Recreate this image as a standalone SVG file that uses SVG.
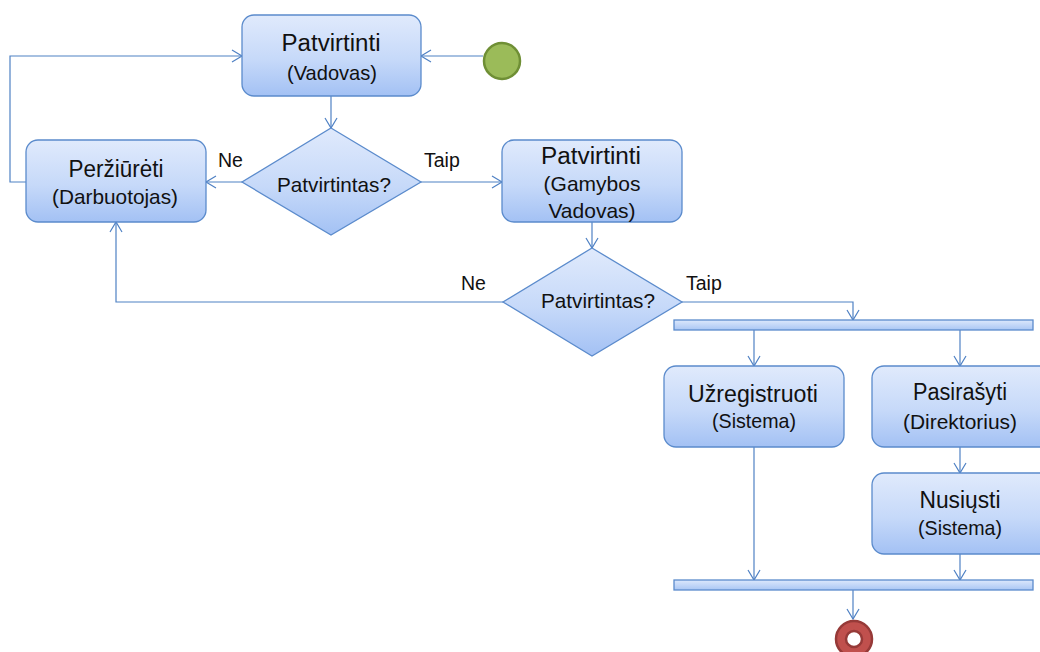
<svg xmlns="http://www.w3.org/2000/svg" width="1040" height="652" viewBox="0 0 1040 652">
<defs>
<linearGradient id="gNode" x1="0" y1="0" x2="0" y2="1">
<stop offset="0" stop-color="#e0eafc"/>
<stop offset="0.55" stop-color="#c6d9f9"/>
<stop offset="1" stop-color="#a3c1f4"/>
</linearGradient>
<linearGradient id="gBar" x1="0" y1="0" x2="0" y2="1">
<stop offset="0" stop-color="#dce8fc"/>
<stop offset="1" stop-color="#a9c6f4"/>
</linearGradient>
<marker id="arr" markerUnits="userSpaceOnUse" markerWidth="14" markerHeight="14" viewBox="0 0 14 14" refX="12" refY="7" orient="auto">
<path d="M2,1 L12,7 L2,13" fill="none" stroke="#4f81c4" stroke-width="1.2"/>
</marker>
</defs>
<style>
.node{fill:url(#gNode);stroke:#5b8bcc;stroke-width:1.3}
.bar{fill:url(#gBar);stroke:#5b8bcc;stroke-width:1.3}
.conn{fill:none;stroke:#4f81c4;stroke-width:1.2;marker-end:url(#arr)}
text{font-family:"Liberation Sans",Arial,sans-serif;fill:#111;text-anchor:middle}
.t1{font-size:23px}
.t2{font-size:21px}
.lbl{font-size:19.5px;text-anchor:start}
</style>
<rect width="1040" height="652" fill="#ffffff"/>

<g id="connectors">
<path class="conn" d="M483,56 L421,56"/>
<path class="conn" d="M331,96 L331,128"/>
<path class="conn" d="M242,182 L206,182"/>
<path class="conn" d="M421,182 L502,182"/>
<path class="conn" d="M26,182 L10,182 L10,56 L242,56"/>
<path class="conn" d="M592,222 L592,248"/>
<path class="conn" d="M503,302 L116,302 L116,222"/>
<path class="conn" d="M682,302 L853,302 L853,320"/>
<path class="conn" d="M754,330 L754,366"/>
<path class="conn" d="M960,330 L960,366"/>
<path class="conn" d="M960,447 L960,473"/>
<path class="conn" d="M754,447 L754,580"/>
<path class="conn" d="M960,554 L960,580"/>
<path class="conn" d="M853,590 L853,619"/>
</g>

<g id="labels">
<text class="lbl" x="218" y="167">Ne</text>
<text class="lbl" x="424" y="167">Taip</text>
<text class="lbl" x="461" y="290">Ne</text>
<text class="lbl" x="686" y="290">Taip</text>
</g>

<g id="start">
<circle cx="502" cy="61" r="18" fill="#9bbb59" stroke="#6f8f35" stroke-width="2.5"/>
</g>

<g id="n-patvirtinti-vadovas">
<rect class="node" x="242" y="15" width="179" height="81" rx="12"/>
<text class="t1" x="331" y="51" textLength="99" lengthAdjust="spacingAndGlyphs">Patvirtinti</text>
<text class="t2" x="332" y="80" textLength="90" lengthAdjust="spacingAndGlyphs">(Vadovas)</text>
</g>

<g id="d-patvirtintas-1">
<polygon class="node" points="331,128 421,182 331,235 242,182"/>
<text class="t2" x="334" y="192" textLength="114" lengthAdjust="spacingAndGlyphs">Patvirtintas?</text>
</g>

<g id="n-perziureti">
<rect class="node" x="26" y="140" width="180" height="82" rx="12"/>
<text class="t1" x="116" y="177" textLength="95" lengthAdjust="spacingAndGlyphs">Peržiūrėti</text>
<text class="t2" x="115" y="204" textLength="126" lengthAdjust="spacingAndGlyphs">(Darbuotojas)</text>
</g>

<g id="n-patvirtinti-gamybos">
<rect class="node" x="502" y="140" width="180" height="82" rx="12"/>
<text class="t1" x="591" y="164" textLength="100" lengthAdjust="spacingAndGlyphs">Patvirtinti</text>
<text class="t2" x="592" y="191">(Gamybos</text>
<text class="t2" x="592" y="218">Vadovas)</text>
</g>

<g id="d-patvirtintas-2">
<polygon class="node" points="592,248 682,302 592,356 503,302"/>
<text class="t2" x="598" y="308" textLength="114" lengthAdjust="spacingAndGlyphs">Patvirtintas?</text>
</g>

<g id="fork">
<rect class="bar" x="674" y="320" width="359" height="10"/>
</g>

<g id="n-uzregistruoti">
<rect class="node" x="664" y="366" width="180" height="81" rx="12"/>
<text class="t1" x="753" y="402" textLength="130" lengthAdjust="spacingAndGlyphs">Užregistruoti</text>
<text class="t2" x="754" y="428" textLength="84" lengthAdjust="spacingAndGlyphs">(Sistema)</text>
</g>

<g id="n-pasirasyti">
<rect class="node" x="872" y="366" width="180" height="81" rx="12"/>
<text class="t1" x="960" y="400" textLength="94" lengthAdjust="spacingAndGlyphs">Pasirašyti</text>
<text class="t2" x="960" y="429" textLength="114" lengthAdjust="spacingAndGlyphs">(Direktorius)</text>
</g>

<g id="n-nusiusti">
<rect class="node" x="872" y="473" width="180" height="81" rx="12"/>
<text class="t1" x="960" y="508" textLength="81" lengthAdjust="spacingAndGlyphs">Nusiųsti</text>
<text class="t2" x="960" y="535" textLength="84" lengthAdjust="spacingAndGlyphs">(Sistema)</text>
</g>

<g id="join">
<rect class="bar" x="674" y="580" width="359" height="10"/>
</g>

<g id="end">
<circle cx="854" cy="639" r="18" fill="#c0504d" stroke="#963a38" stroke-width="2.5"/>
<circle cx="854" cy="639" r="8" fill="#ffffff" stroke="#963a38" stroke-width="2.5"/>
</g>
</svg>
